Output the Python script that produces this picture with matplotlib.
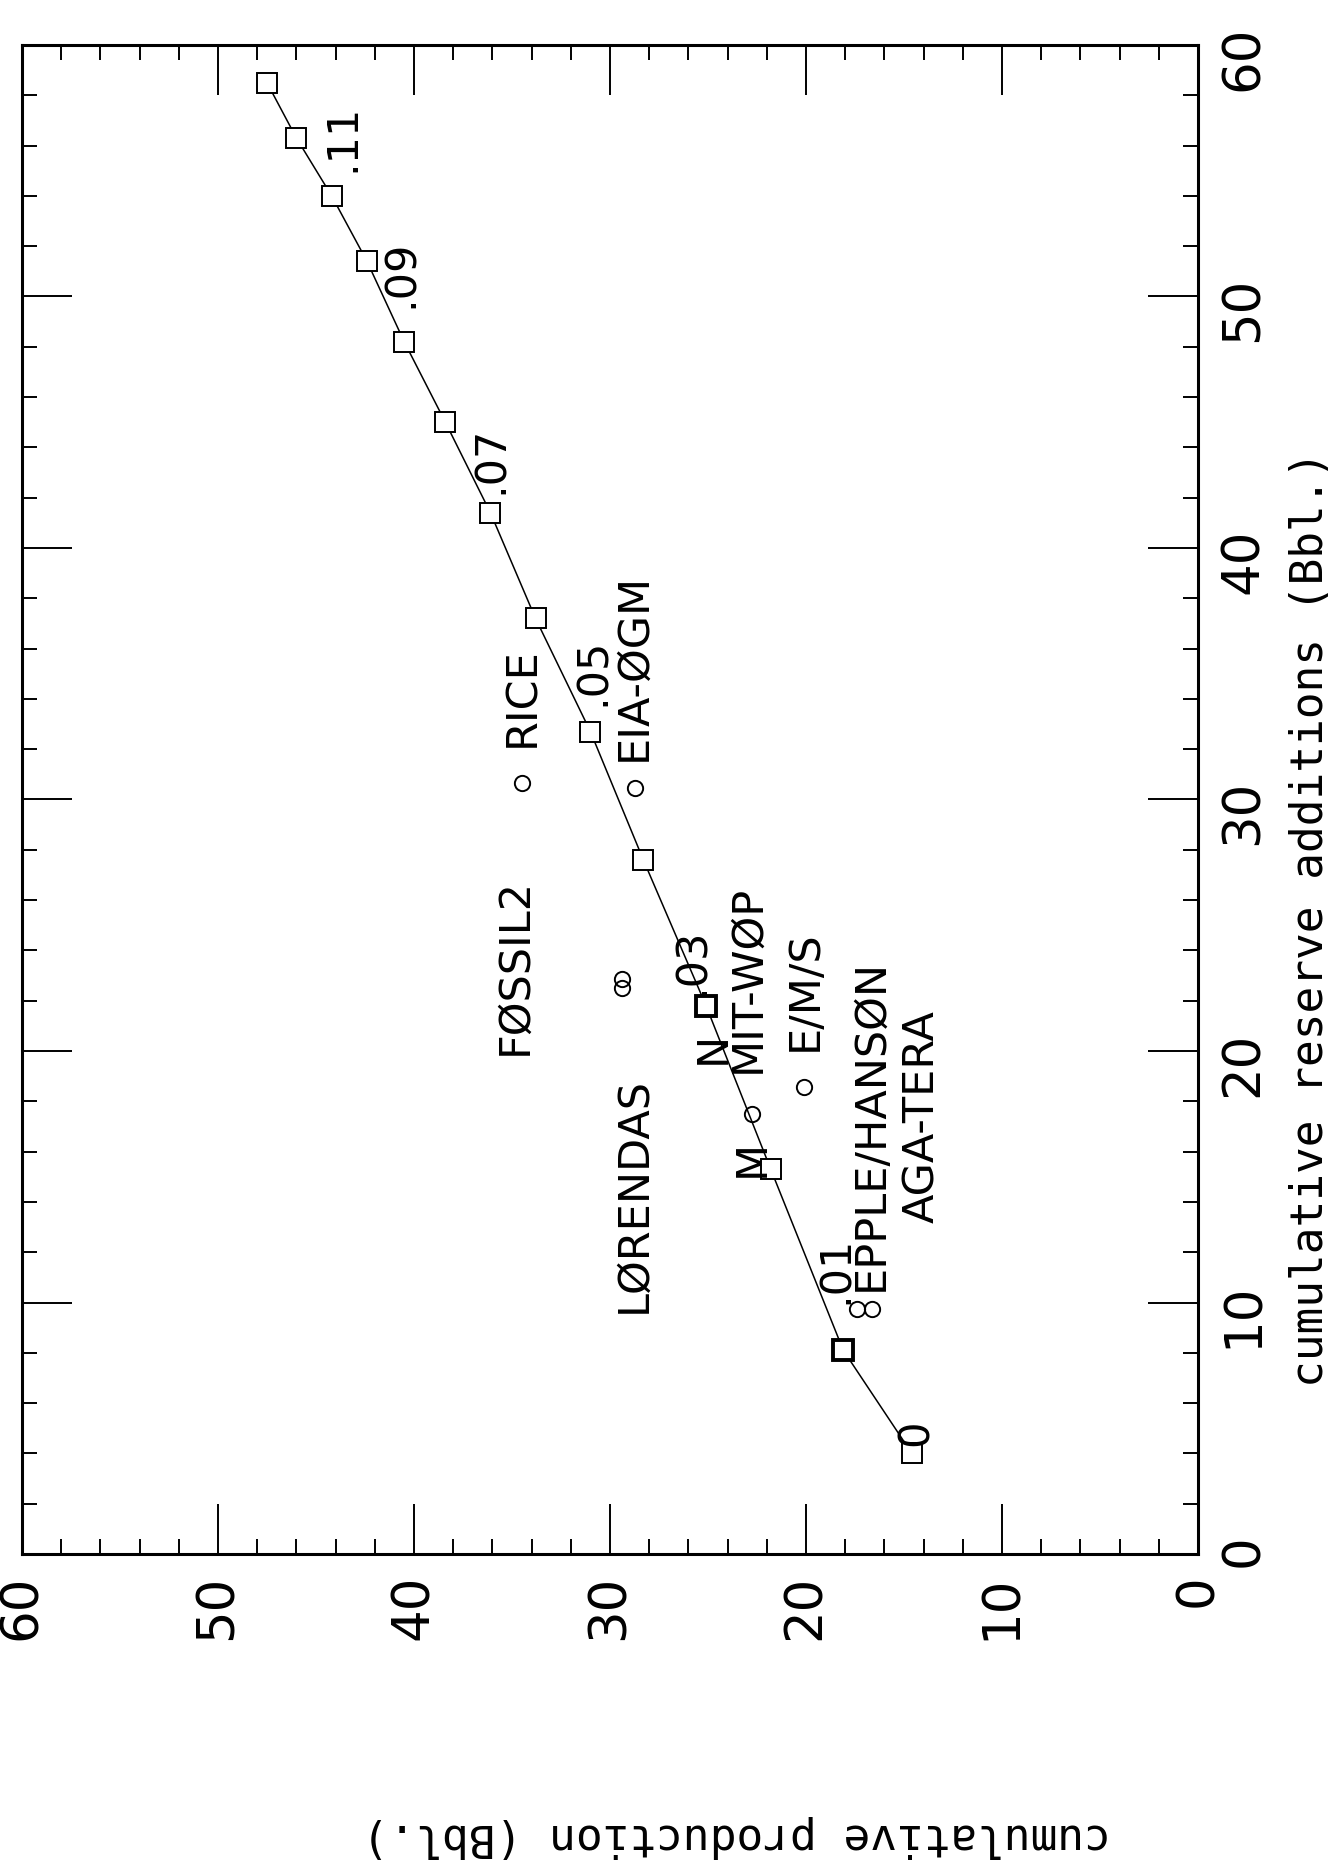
import matplotlib
matplotlib.use('Agg')
import matplotlib.pyplot as plt
from matplotlib.ticker import MultipleLocator

# ------------------------------------------------------------
# Data (chart is drawn turned 90 deg: production runs right->left,
# reserve additions run bottom->top)
# ------------------------------------------------------------
rate = ['0', '.01', '.02', '.03', '.04', '.05', '.06', '.07',
        '.08', '.09', '.10', '.11', '.12', '.13']
prod = [14.6, 18.1, 21.8, 25.1, 28.3, 31.0, 33.8, 36.1,
        38.4, 40.5, 42.4, 44.2, 46.0, 47.5]
reserve = [4.0, 8.1, 15.3, 21.8, 27.6, 32.7, 37.2, 41.4,
           45.0, 48.2, 51.4, 54.0, 56.3, 58.5]
bold_pts = [1, 3]

# labelled rates: text, production, reserve (start of text)
rate_lbl = ['.01', '.03', '.05', '.07', '.09', '.11']
rate_lbl_p = [18.5, 25.8, 30.85, 36.10, 40.67, 43.63]
rate_lbl_r = [9.93, 22.17, 33.70, 42.16, 49.54, 54.95]

# model estimates (circles)
model_p = [34.48, 28.70, 29.37, 29.37, 20.09, 17.40, 16.64, 22.78]
model_r = [30.64, 30.46, 22.52, 22.88, 18.57, 9.74, 9.74, 17.50]

# model names: text, production, reserve (start of text)
name_txt = ['FØSSIL2', 'RICE', 'LØRENDAS', 'EIA-ØGM', 'MIT-WØP', 'N', 'M',
            'E/M/S', 'EPPLE/HANSØN', 'AGA-TERA']
name_p = [34.89, 34.48, 28.80, 28.83, 23.00, 24.75, 22.78, 20.09, 16.70, 14.10]
name_r = [19.83, 32.07, 9.57, 31.54, 19.11, 19.47, 14.97, 20.01, 10.47, 13.17]

TICK_FONT = 'DejaVu Sans'
AXIS_FONT = 'DejaVu Sans Mono'
LBL_FONT = 'DejaVu Sans'

fig = plt.figure(figsize=(13.3, 18.64), dpi=100)
ax = fig.add_axes([0.0165, 0.1663, 0.8843, 0.8096])

ax.set_xlim(60, 0)
ax.set_ylim(0, 60)

# curve with square markers
ax.plot(prod, reserve, '-', color='black', lw=1.1, zorder=2)
for i, (p, r) in enumerate(zip(prod, reserve)):
    ax.plot(p, r, 's', ms=14, mfc='white', mec='black',
            mew=2.8 if i in bold_pts else 1.4, zorder=3)
ax.text(prod[0] - 0.2, reserve[0] + 0.3, rate[0], rotation=90,
        ha='center', va='bottom', fontsize=30, family=LBL_FONT, zorder=4)

for t, p, r in zip(rate_lbl, rate_lbl_p, rate_lbl_r):
    ax.text(p, r, t, rotation=90, ha='center', va='bottom',
            fontsize=31, family=LBL_FONT)

ax.plot(model_p, model_r, 'o', ms=11, mfc='none', mec='black', mew=1.4,
        linestyle='none')

for t, p, r in zip(name_txt, name_p, name_r):
    ax.text(p, r, t, rotation=90, ha='center', va='bottom',
            fontsize=31, family=LBL_FONT)

# axes / ticks
for sp in ax.spines.values():
    sp.set_linewidth(2.2)
ax.xaxis.set_major_locator(MultipleLocator(10))
ax.xaxis.set_minor_locator(MultipleLocator(2))
ax.yaxis.set_major_locator(MultipleLocator(10))
ax.yaxis.set_minor_locator(MultipleLocator(2))
ax.tick_params(which='both', direction='in', top=True, right=True,
               bottom=True, left=True, labelbottom=True, labelright=True,
               labelleft=False, labeltop=False, width=1.4)
ax.tick_params(which='major', length=36, pad=15, labelsize=37)
ax.tick_params(which='minor', length=11)
for lab in ax.get_xticklabels() + ax.get_yticklabels():
    lab.set_rotation(90)
    lab.set_family(TICK_FONT)

# axis titles placed like the plotter output
fig.text(0.985, 0.256, 'cumulative reserve additions (Bbl.)', rotation=90,
         ha='center', va='bottom', fontsize=32, family=AXIS_FONT)
fig.text(0.554, 0.015, 'cumulative production (Bbl.)', rotation=180,
         ha='center', va='center', fontsize=32, family=AXIS_FONT)

fig.savefig('out.png', dpi=100)
